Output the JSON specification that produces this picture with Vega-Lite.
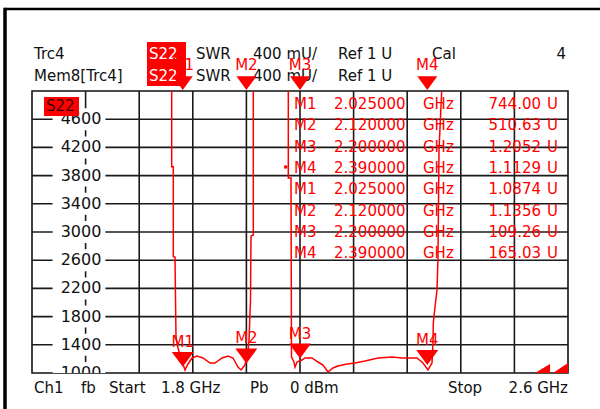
{
"$schema": "https://vega.github.io/schema/vega-lite/v6.json",
"width": 536, "height": 282, "autosize": "none",
"padding": {"left": 32, "top": 91, "right": 32, "bottom": 36},
"background": "#ffffff",
"config": {
  "view": {"stroke": "#111111", "strokeWidth": 1.6},
  "font": "DejaVu Sans",
  "text": {"font": "DejaVu Sans", "fontSize": 15}
},
"datasets": {
  "one": [{}],
  "xgrid": [{"f": 1.88}, {"f": 1.96}, {"f": 2.04}, {"f": 2.12}, {"f": 2.2}, {"f": 2.28}, {"f": 2.36}, {"f": 2.44}, {"f": 2.52}],
  "ygrid": [{"v": 1400}, {"v": 1800}, {"v": 2200}, {"v": 2600}, {"v": 3000}, {"v": 3400}, {"v": 3800}, {"v": 4200}, {"v": 4600}],
  "mem": [
    {"f": 2.00851, "v": 5600}, {"f": 2.00851, "v": 3926}, {"f": 2.01090, "v": 3926}, {"f": 2.01090, "v": 2650},
    {"f": 2.01343, "v": 2645}, {"f": 2.01493, "v": 1511}, {"f": 2.01791, "v": 1355}, {"f": 2.02239, "v": 1213},
    {"f": 2.02836, "v": 1043}, {"f": 2.03284, "v": 1128}, {"f": 2.03881, "v": 1213}, {"f": 2.04627, "v": 1241},
    {"f": 2.05522, "v": 1213}, {"f": 2.06567, "v": 1142}, {"f": 2.07313, "v": 1142}, {"f": 2.08358, "v": 1213},
    {"f": 2.09254, "v": 1241}, {"f": 2.10000, "v": 1213}, {"f": 2.10746, "v": 1085}, {"f": 2.11194, "v": 1043},
    {"f": 2.11791, "v": 1113}, {"f": 2.12239, "v": 1298}, {"f": 2.12388, "v": 1468}, {"f": 2.12612, "v": 2035},
    {"f": 2.12687, "v": 2943}, {"f": 2.13030, "v": 2957}, {"f": 2.13030, "v": 5600}
  ],
  "trc": [
    {"f": 2.18254, "v": 5600}, {"f": 2.18254, "v": 3766}, {"f": 2.18657, "v": 3766}, {"f": 2.18731, "v": 1227},
    {"f": 2.19104, "v": 1156}, {"f": 2.19254, "v": 1085}, {"f": 2.19552, "v": 1156}, {"f": 2.20299, "v": 1184},
    {"f": 2.20746, "v": 1213}, {"f": 2.21791, "v": 1213}, {"f": 2.22687, "v": 1156}, {"f": 2.23433, "v": 1113},
    {"f": 2.24179, "v": 1014}, {"f": 2.24925, "v": 1071}, {"f": 2.25672, "v": 1099}, {"f": 2.27015, "v": 1128},
    {"f": 2.28209, "v": 1142}, {"f": 2.29701, "v": 1170}, {"f": 2.31642, "v": 1213}, {"f": 2.33731, "v": 1227},
    {"f": 2.35224, "v": 1213}, {"f": 2.36418, "v": 1213}, {"f": 2.37463, "v": 1213}, {"f": 2.38358, "v": 1142},
    {"f": 2.39104, "v": 1043}, {"f": 2.39701, "v": 1142}, {"f": 2.39851, "v": 1426}, {"f": 2.39896, "v": 1709},
    {"f": 2.40149, "v": 1936}, {"f": 2.40448, "v": 2177}, {"f": 2.40597, "v": 2645}, {"f": 2.40746, "v": 4163},
    {"f": 2.41149, "v": 5000}, {"f": 2.41194, "v": 5600}
  ],
  "edge": [
    {"f": 2.55075, "v": 1000}, {"f": 2.57313, "v": 1128}, {"f": 2.57328, "v": 1000}, {"f": 2.57761, "v": 1000}, {"f": 2.6, "v": 1142}
  ],
  "dot": [{"f": 2.17866, "v": 3922}],
  "markers": [
    {"m": "M1", "f": 2.025, "v": 1087.4},
    {"m": "M2", "f": 2.12, "v": 1135.6},
    {"m": "M3", "f": 2.2, "v": 1205.2},
    {"m": "M4", "f": 2.39, "v": 1112.9}
  ],
  "ylabels": [
    {"val": 1000}, {"val": 1400}, {"val": 1800}, {"val": 2200}, {"val": 2600},
    {"val": 3000}, {"val": 3400}, {"val": 3800}, {"val": 4200}, {"val": 4600}
  ],
  "table": [
    {"row": 1, "m": "M1", "freq": "2.025000", "val": "744.00"},
    {"row": 2, "m": "M2", "freq": "2.120000", "val": "510.63"},
    {"row": 3, "m": "M3", "freq": "2.200000", "val": "1.2052"},
    {"row": 4, "m": "M4", "freq": "2.390000", "val": "1.1129"},
    {"row": 5, "m": "M1", "freq": "2.025000", "val": "1.0874"},
    {"row": 6, "m": "M2", "freq": "2.120000", "val": "1.1356"},
    {"row": 7, "m": "M3", "freq": "2.200000", "val": "109.26"},
    {"row": 8, "m": "M4", "freq": "2.390000", "val": "165.03"}
  ]
},
"resolve": {"scale": {"y": "independent"}},
"layer": [
  {"layer": [
    {"data": {"name": "xgrid"},
     "mark": {"type": "rule", "color": "#1a1a1a", "strokeWidth": 1.6},
     "encoding": {
       "x": {"field": "f", "type": "quantitative", "axis": null,
             "scale": {"domain": [1.8, 2.6], "nice": false, "zero": false}}
     }},
    {"data": {"name": "ygrid"},
     "mark": {"type": "rule", "color": "#1a1a1a", "strokeWidth": 1.6},
     "encoding": {
       "y": {"field": "v", "type": "quantitative", "axis": null,
             "scale": {"domain": [1000, 5000], "nice": false, "zero": false}}
     }},
    {"data": {"name": "mem"},
     "mark": {"type": "line", "color": "#ff0000", "strokeWidth": 1.5, "clip": true},
     "encoding": {
       "x": {"field": "f", "type": "quantitative", "axis": null},
       "y": {"field": "v", "type": "quantitative", "axis": null},
       "order": {"value": null}
     }},
    {"data": {"name": "trc"},
     "mark": {"type": "line", "color": "#ff0000", "strokeWidth": 1.5, "clip": true},
     "encoding": {
       "x": {"field": "f", "type": "quantitative", "axis": null},
       "y": {"field": "v", "type": "quantitative", "axis": null},
       "order": {"value": null}
     }},
    {"data": {"name": "edge"},
     "mark": {"type": "area", "color": "#ff0000", "clip": true},
     "encoding": {
       "x": {"field": "f", "type": "quantitative", "axis": null},
       "y": {"field": "v", "type": "quantitative", "axis": null},
       "y2": {"datum": 1000},
       "order": {"value": null}
     }},
    {"data": {"name": "dot"},
     "mark": {"type": "square", "color": "#ff0000", "size": 10, "opacity": 1, "clip": true},
     "encoding": {
       "x": {"field": "f", "type": "quantitative", "axis": null},
       "y": {"field": "v", "type": "quantitative", "axis": null}
     }},
    {"data": {"name": "ylabels"},
     "mark": {"type": "point", "shape": "M-2.4,-1H2.4V1H-2.4Z", "size": 484, "filled": true, "fill": "#ffffff", "strokeWidth": 0, "opacity": 1, "clip": true},
     "encoding": {
       "x": {"datum": 1.87015, "axis": null},
       "y": {"field": "val", "type": "quantitative", "axis": null}
     }},
    {"data": {"name": "ylabels"},
     "mark": {"type": "text", "color": "#111111", "fontSize": 16, "align": "center", "baseline": "middle", "clip": true},
     "encoding": {
       "x": {"datum": 1.87313, "axis": null},
       "y": {"field": "val", "type": "quantitative", "axis": null},
       "text": {"field": "val", "type": "quantitative", "format": "d"}
     }},
    {"data": {"name": "one"}, "mark": {"type": "rect", "color": "#ff0000"},
     "encoding": {"x": {"datum": 1.81791, "axis": null}, "x2": {"datum": 1.87015}, "y": {"datum": 4915, "axis": null}, "y2": {"datum": 4645}}},
    {"data": {"name": "one"}, "mark": {"type": "text", "color": "#3a0000", "align": "left", "baseline": "middle"},
     "encoding": {"x": {"datum": 1.8209, "axis": null}, "y": {"datum": 4787, "axis": null}, "text": {"value": "S22"}}},
    {"data": {"name": "markers"},
     "mark": {"type": "point", "shape": "M-1,-1.36L1,-1.36L0,0Z", "size": 484, "filled": true, "color": "#ff0000", "opacity": 1, "strokeWidth": 0},
     "encoding": {
       "x": {"field": "f", "type": "quantitative", "axis": null},
       "y": {"field": "v", "type": "quantitative", "axis": null}
     }},
    {"data": {"name": "markers"},
     "mark": {"type": "text", "color": "#ff0000", "align": "center", "baseline": "alphabetic", "dy": -20},
     "encoding": {
       "x": {"field": "f", "type": "quantitative", "axis": null},
       "y": {"field": "v", "type": "quantitative", "axis": null},
       "text": {"field": "m"},
       "fontWeight": {"condition": {"test": "datum.m === 'M4'", "value": "bold"}, "value": "normal"}
     }},
    {"data": {"name": "one"}, "mark": {"type": "text", "color": "#111111", "align": "left", "baseline": "alphabetic", "lineHeight": 22},
     "encoding": {"x": {"datum": 1.80299, "axis": null}, "y": {"datum": 5454, "axis": null}, "text": {"value": ["Trc4", "Mem8[Trc4]"]}}},
    {"data": {"name": "one"}, "mark": {"type": "rect", "color": "#ff0000"},
     "encoding": {"x": {"datum": 1.97164, "axis": null}, "x2": {"datum": 2.02985}, "y": {"datum": 5695, "axis": null}, "y2": {"datum": 5071}}},
    {"data": {"name": "one"}, "mark": {"type": "text", "color": "#ffffff", "align": "left", "baseline": "alphabetic", "lineHeight": 22},
     "encoding": {"x": {"datum": 1.97463, "axis": null}, "y": {"datum": 5454, "axis": null}, "text": {"value": ["S22", "S22"]}}},
    {"data": {"name": "one"}, "mark": {"type": "text", "color": "#111111", "align": "left", "baseline": "alphabetic", "lineHeight": 22},
     "encoding": {"x": {"datum": 2.04478, "axis": null}, "y": {"datum": 5454, "axis": null}, "text": {"value": ["SWR", "SWR"]}}},
    {"data": {"name": "one"}, "mark": {"type": "text", "color": "#111111", "align": "left", "baseline": "alphabetic", "lineHeight": 22},
     "encoding": {"x": {"datum": 2.12985, "axis": null}, "y": {"datum": 5454, "axis": null}, "text": {"value": ["400 mU/", "400 mU/"]}}},
    {"data": {"name": "one"}, "mark": {"type": "text", "color": "#111111", "align": "left", "baseline": "alphabetic", "lineHeight": 22},
     "encoding": {"x": {"datum": 2.25672, "axis": null}, "y": {"datum": 5454, "axis": null}, "text": {"value": ["Ref 1 U", "Ref 1 U"]}}},
    {"data": {"name": "one"}, "mark": {"type": "text", "color": "#111111", "align": "left", "baseline": "alphabetic"},
     "encoding": {"x": {"datum": 2.39701, "axis": null}, "y": {"datum": 5454, "axis": null}, "text": {"value": "Cal"}}},
    {"data": {"name": "one"}, "mark": {"type": "text", "color": "#111111", "align": "right", "baseline": "alphabetic"},
     "encoding": {"x": {"datum": 2.59701, "axis": null}, "y": {"datum": 5454, "axis": null}, "text": {"value": "4"}}},
    {"data": {"name": "markers"},
     "mark": {"type": "text", "color": "#ff0000", "align": "center", "baseline": "alphabetic"},
     "encoding": {
       "x": {"field": "f", "type": "quantitative", "axis": null},
       "y": {"datum": 5298, "axis": null},
       "text": {"field": "m"}
     }},
    {"data": {"name": "markers"},
     "mark": {"type": "point", "shape": "M-1,-1.36L1,-1.36L0,0Z", "size": 400, "filled": true, "color": "#ff0000", "opacity": 1, "strokeWidth": 0},
     "encoding": {
       "x": {"field": "f", "type": "quantitative", "axis": null},
       "y": {"datum": 5015, "axis": null}
     }},
    {"data": {"name": "one"}, "mark": {"type": "text", "color": "#111111", "align": "left", "baseline": "alphabetic"},
     "encoding": {"x": {"datum": 1.80299, "axis": null}, "y": {"datum": 716, "axis": null}, "text": {"value": "Ch1"}}},
    {"data": {"name": "one"}, "mark": {"type": "text", "color": "#111111", "align": "left", "baseline": "alphabetic"},
     "encoding": {"x": {"datum": 1.87313, "axis": null}, "y": {"datum": 716, "axis": null}, "text": {"value": "fb"}}},
    {"data": {"name": "one"}, "mark": {"type": "text", "color": "#111111", "align": "left", "baseline": "alphabetic"},
     "encoding": {"x": {"datum": 1.91493, "axis": null}, "y": {"datum": 716, "axis": null}, "text": {"value": "Start"}}},
    {"data": {"name": "one"}, "mark": {"type": "text", "color": "#111111", "align": "left", "baseline": "alphabetic"},
     "encoding": {"x": {"datum": 1.99254, "axis": null}, "y": {"datum": 716, "axis": null}, "text": {"value": "1.8 GHz"}}},
    {"data": {"name": "one"}, "mark": {"type": "text", "color": "#111111", "align": "left", "baseline": "alphabetic"},
     "encoding": {"x": {"datum": 2.12537, "axis": null}, "y": {"datum": 716, "axis": null}, "text": {"value": "Pb"}}},
    {"data": {"name": "one"}, "mark": {"type": "text", "color": "#111111", "align": "left", "baseline": "alphabetic"},
     "encoding": {"x": {"datum": 2.18507, "axis": null}, "y": {"datum": 716, "axis": null}, "text": {"value": "0 dBm"}}},
    {"data": {"name": "one"}, "mark": {"type": "text", "color": "#111111", "align": "left", "baseline": "alphabetic"},
     "encoding": {"x": {"datum": 2.4209, "axis": null}, "y": {"datum": 716, "axis": null}, "text": {"value": "Stop"}}},
    {"data": {"name": "one"}, "mark": {"type": "text", "color": "#111111", "align": "right", "baseline": "alphabetic"},
     "encoding": {"x": {"datum": 2.6, "axis": null}, "y": {"datum": 716, "axis": null}, "text": {"value": "2.6 GHz"}}},
    {"data": {"name": "one"}, "mark": {"type": "rule", "color": "#000000", "strokeWidth": 2.5},
     "encoding": {"x": {"datum": 1.7597, "axis": null}, "x2": {"datum": 2.66}, "y": {"datum": 6163, "axis": null}}},
    {"data": {"name": "one"}, "mark": {"type": "rule", "color": "#000000", "strokeWidth": 3.5},
     "encoding": {"x": {"datum": 1.7597, "axis": null}, "y": {"datum": 6180, "axis": null}, "y2": {"datum": 300}}}
  ]},
  {"data": {"name": "table"},
   "encoding": {
     "y": {"field": "row", "type": "quantitative", "axis": null,
           "scale": {"domain": [0.39, 13.61], "reverse": true, "nice": false, "zero": false}}
   },
   "layer": [
     {"mark": {"type": "text", "color": "#ff0000", "align": "left", "baseline": "middle"},
      "encoding": {"x": {"datum": 2.19104, "axis": null}, "text": {"field": "m"}}},
     {"mark": {"type": "text", "color": "#ff0000", "align": "left", "baseline": "middle"},
      "encoding": {"x": {"datum": 2.25075, "axis": null}, "text": {"field": "freq"}}},
     {"mark": {"type": "text", "color": "#ff0000", "align": "left", "baseline": "middle"},
      "encoding": {"x": {"datum": 2.38358, "axis": null}, "text": {"value": "GHz"}}},
     {"mark": {"type": "text", "color": "#ff0000", "align": "right", "baseline": "middle"},
      "encoding": {"x": {"datum": 2.5597, "axis": null}, "text": {"field": "val"}}},
     {"mark": {"type": "text", "color": "#ff0000", "align": "left", "baseline": "middle"},
      "encoding": {"x": {"datum": 2.56866, "axis": null}, "text": {"value": "U"}}}
   ]}
]
}
